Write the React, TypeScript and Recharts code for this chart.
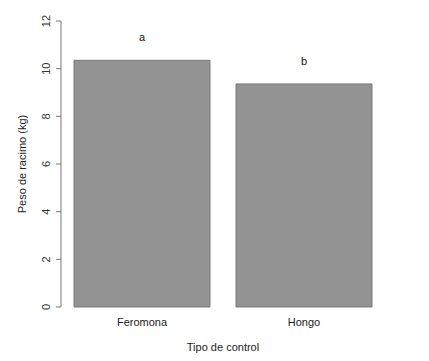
import { BarChart, Bar, XAxis, YAxis, LabelList } from "recharts";

const categories = ["Feromona", "Hongo"];
const weights = [10.35, 9.36];
const letters = ["a", "b"];
const yTicks = [0, 2, 4, 6, 8, 10, 12];

const data = categories.map((c, i) => ({ name: c, peso: weights[i], letra: letters[i] }));

const font = "'Liberation Sans', Arial, sans-serif";

function RotTick(props: any) {
  const { x, y, payload } = props;
  return (
    <text x={x - 4} y={y} transform={`rotate(-90, ${x - 4}, ${y})`} textAnchor="middle"
      fontSize={11} fill="#333" fontFamily={font}>
      {payload.value}
    </text>
  );
}

export default function App() {
  return (
    <div style={{ position: "absolute", left: 0, top: 0, background: "#fff" }}>
      <BarChart width={429} height={361} data={data} barCategoryGap={13}
        margin={{ top: 21, right: 44, left: 0, bottom: 0 }}>
        <XAxis dataKey="name" height={54} axisLine={false} tickLine={false}
          tick={{ fontSize: 11, fill: "#222", fontFamily: font }} dy={3}
          label={{ value: "Tipo de control", position: "insideBottom", offset: 10, fontSize: 11, fill: "#222", fontFamily: font }} />
        <YAxis width={61} domain={[0, 12]} ticks={yTicks} tick={<RotTick />}
          axisLine={{ stroke: "#777" }} tickLine={{ stroke: "#777" }} tickSize={5}
          label={{ value: "Peso de racimo (kg)", angle: -90, position: "insideLeft", offset: 22, fontSize: 11, fill: "#222", fontFamily: font, style: { textAnchor: "middle" } }} />
        <Bar dataKey="peso" fill="#939393" stroke="#7a7a7a" strokeWidth={1} isAnimationActive={false}>
          <LabelList dataKey="letra" position="top" offset={19} fontSize={11} fill="#111" fontFamily={font} />
        </Bar>
      </BarChart>
    </div>
  );
}
